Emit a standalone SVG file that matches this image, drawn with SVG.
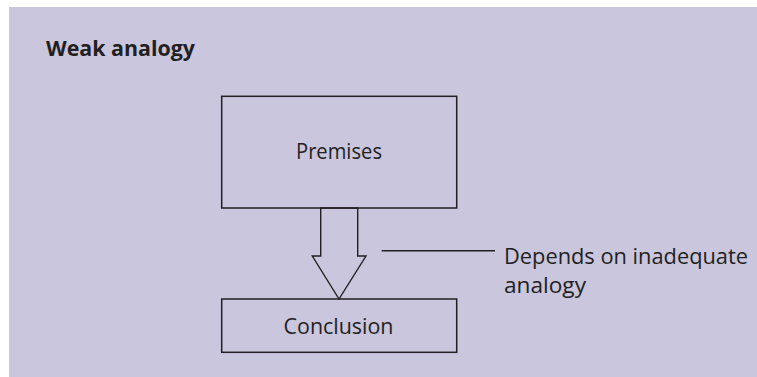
<svg xmlns="http://www.w3.org/2000/svg" width="757" height="377" viewBox="0 0 757 377">
<style>
.box{fill:none;stroke:#231f20;stroke-width:1.5}
.ln{fill:none;stroke:#231f20;stroke-width:1.4}
.t{font-family:"Open Sans","Noto Sans",sans-serif;font-size:22px;fill:#231f20}
.title{font-family:"Open Sans","Noto Sans",sans-serif;font-size:22px;font-weight:bold;fill:#231f20}
</style>
<rect x="9" y="7" width="748" height="370" fill="#c9c6de"/>
<text class="title" x="46" y="56" textLength="149" lengthAdjust="spacingAndGlyphs">Weak analogy</text>
<g id="premises">
<rect class="box" x="221.7" y="96.3" width="235" height="111.7"/>
<text class="t" x="339" y="159.3" text-anchor="middle" textLength="86" lengthAdjust="spacingAndGlyphs">Premises</text>
</g>
<g id="conclusion">
<rect class="box" x="221.7" y="299" width="235" height="53.3"/>
<text class="t" x="338.5" y="334.3" text-anchor="middle" textLength="110" lengthAdjust="spacingAndGlyphs">Conclusion</text>
</g>
<g id="connectors">
<polygon class="ln" points="320.7,208 320.7,256 312.3,256 339,299 366,256 357.7,256 357.7,208"/>
<line class="ln" x1="381.7" y1="250.7" x2="495" y2="250.7"/>
</g>
<g id="annotation">
<text class="t" x="504" y="263.5" textLength="244" lengthAdjust="spacingAndGlyphs">Depends on inadequate</text>
<text class="t" x="504" y="293.3" textLength="82" lengthAdjust="spacingAndGlyphs">analogy</text>
</g>
</svg>
